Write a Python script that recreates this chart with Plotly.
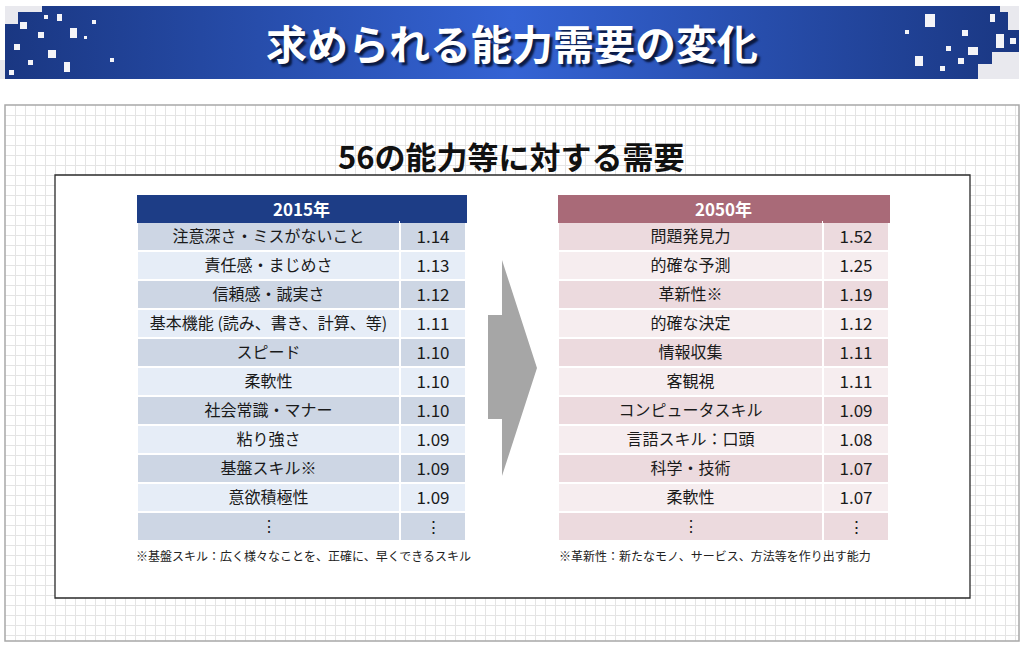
import plotly.graph_objects as go

# ---------------- data ----------------
years = ["2015年", "2050年"]
skills_2015 = ["注意深さ・ミスがないこと", "責任感・まじめさ", "信頼感・誠実さ",
               "基本機能 (読み、書き、計算、等)", "スピード", "柔軟性",
               "社会常識・マナー", "粘り強さ", "基盤スキル※", "意欲積極性"]
values_2015 = [1.14, 1.13, 1.12, 1.11, 1.10, 1.10, 1.10, 1.09, 1.09, 1.09]
skills_2050 = ["問題発見力", "的確な予測", "革新性※", "的確な決定", "情報収集",
               "客観視", "コンピュータスキル", "言語スキル：口頭", "科学・技術", "柔軟性"]
values_2050 = [1.52, 1.25, 1.19, 1.12, 1.11, 1.11, 1.09, 1.08, 1.07, 1.07]
more_mark = "⋮"
main_title = "求められる能力需要の変化"
sub_title = "56の能力等に対する需要"
note_2015 = "※基盤スキル：広く様々なことを、正確に、早くできるスキル"
note_2050 = "※革新性：新たなモノ、サービス、方法等を作り出す能力"

# ---------------- helpers ----------------
W, H = 1024, 647
FONT = "Noto Sans CJK JP"


def X(px):
    return px / W


def Y(py):
    return 1 - py / H


fig = go.Figure()

# grid subplot registration
fig.add_trace(go.Scatter(x=[], y=[], xaxis="x", yaxis="y", showlegend=False))

# banner (gradient) on full-width pixel axis
fig.add_trace(go.Scatter(
    x=[5, 1019, 1019, 5, 5], y=[6, 6, 79, 79, 6], xaxis="x2", yaxis="y2",
    mode="lines", line=dict(width=0), fill="toself",
    fillgradient=dict(type="horizontal",
                      colorscale=[[0, "#1a3782"], [0.5, "#3463d4"], [1, "#1a3782"]]),
    hoverinfo="skip", showlegend=False))

# tables
navy = "#1d3d86"
rose = "#a96a78"
blue_dark, blue_light = "#cdd6e4", "#e6edf7"
pink_dark, pink_light = "#ecdade", "#f6edef"


def make_table(labels, values, x0, x1, split, head_col, dark, light):
    labs = list(labels) + [more_mark]
    nums = [f"{v:.2f}" for v in values] + [more_mark]
    fills = [dark if i % 2 == 0 else light for i in range(len(labs))]
    return go.Table(
        domain=dict(x=[X(x0), X(x1)], y=[Y(542), Y(195)]),
        columnwidth=[split - x0, x1 - split],
        header=dict(values=["", ""], fill_color=head_col,
                    line=dict(color=head_col, width=1), height=27),
        cells=dict(values=[labs, nums], fill_color=[fills, fills],
                   line=dict(color="white", width=2), height=29, align="center",
                   font=dict(family=FONT, size=[16, 17], color="#1a1a1a")),
    )


fig.add_trace(make_table(skills_2015, values_2015, 137, 466, 400, navy, blue_dark, blue_light))
fig.add_trace(make_table(skills_2050, values_2050, 558, 889, 823, rose, pink_dark, pink_light))

shapes = []
# grid region border
shapes.append(dict(type="rect", xref="paper", yref="paper", x0=X(5), x1=X(1019), y0=Y(641), y1=Y(105),
                   line=dict(color="#a8a8a8", width=1.5), fillcolor="rgba(0,0,0,0)", layer="above"))
# white panel (covers grid)
shapes.append(dict(type="rect", xref="x", yref="y", x0=50, x1=965, y0=70, y1=493,
                   line=dict(color="#2a2a2a", width=1.3), fillcolor="white", layer="between"))
# arrow
pts = [(488, 315), (502, 315), (502, 260), (537, 368), (502, 476), (502, 419), (488, 419)]
path = "M " + " L ".join(f"{X(a):.5f},{Y(b):.5f}" for a, b in pts) + " Z"
shapes.append(dict(type="path", xref="paper", yref="paper", path=path,
                   fillcolor="#a6a6a6", line=dict(width=0), layer="above"))

# banner mosaic decorations
mosaic_gray = [(5, 6, 42, 12), (5, 12, 18, 24), (0, 60, 5, 79), (1000, 6, 1019, 12), (1008, 12, 1019, 30),
               (978, 64, 1019, 79), (992, 52, 1019, 64)]
mosaic_white = [(20, 22, 27, 29), (44, 15, 48, 19), (57, 14, 62, 21), (38, 32, 44, 38), (70, 28, 77, 38),
                (14, 44, 20, 50), (48, 50, 56, 58), (28, 60, 33, 65), (64, 62, 70, 72), (9, 70, 14, 75),
                (84, 36, 87, 39), (92, 20, 96, 24), (110, 58, 114, 62),
                (925, 14, 935, 27), (962, 30, 968, 36), (990, 14, 995, 22), (946, 46, 951, 51),
                (968, 47, 978, 55), (996, 34, 1004, 48), (915, 56, 923, 66), (940, 66, 945, 71),
                (958, 58, 964, 64), (905, 30, 909, 34), (1010, 38, 1016, 44)]
for (a, b, c, d) in mosaic_gray:
    shapes.append(dict(type="rect", xref="paper", yref="paper", x0=X(a), x1=X(c), y0=Y(d), y1=Y(b),
                       fillcolor="#e9e9ee", line=dict(width=0), layer="above"))
for (a, b, c, d) in mosaic_white:
    shapes.append(dict(type="rect", xref="paper", yref="paper", x0=X(a), x1=X(c), y0=Y(d), y1=Y(b),
                       fillcolor="#f4f4f8", line=dict(width=0), layer="above"))

annotations = []


def ann(x, y, text, size, color, xanchor="center", shadow=None):
    font = dict(family=FONT, size=size, color=color)
    if shadow:
        font["shadow"] = shadow
    annotations.append(dict(x=X(x), y=Y(y), xref="paper", yref="paper", text=text,
                            xanchor=xanchor, yanchor="middle", showarrow=False, font=font))


# banner title with shadow
ann(512, 42, f"<b>{main_title}</b>", 41, "white", shadow="3px 3px 2px rgba(5,15,45,0.85)")
# subtitle
ann(511, 155, f"<b>{sub_title}</b>", 31, "#111111")
# table headers
for yr, cx in zip(years, [301.5, 723.5]):
    ann(cx, 208.5, f"<b>{yr}</b>", 17, "white")
# footnotes
for note, lx in zip([note_2015, note_2050], [134, 557]):
    ann(lx, 555, note, 12, "#222222", xanchor="left")

fig.update_layout(
    width=W, height=H, margin=dict(l=0, r=0, t=0, b=0),
    paper_bgcolor="white", plot_bgcolor="rgba(0,0,0,0)", showlegend=False,
    xaxis=dict(domain=[X(5), X(1019)], range=[0, 1014], dtick=10, tick0=0, showgrid=True,
               gridcolor="#e4e4e4", gridwidth=1, showticklabels=False, ticks="", zeroline=False,
               showline=False, fixedrange=True),
    yaxis=dict(domain=[Y(641), Y(105)], range=[536, 0], dtick=10, tick0=0, showgrid=True,
               gridcolor="#e4e4e4", gridwidth=1, showticklabels=False, ticks="", zeroline=False,
               showline=False, fixedrange=True),
    xaxis2=dict(domain=[0, 1], range=[0, 1024], visible=False, anchor="y2", fixedrange=True),
    yaxis2=dict(domain=[Y(82), 1], range=[82, 0], visible=False, anchor="x2", fixedrange=True),
    shapes=shapes, annotations=annotations,
)

fig.write_html("out.html", config={"displayModeBar": False},
               post_script="document.body.style.margin='0px';")
